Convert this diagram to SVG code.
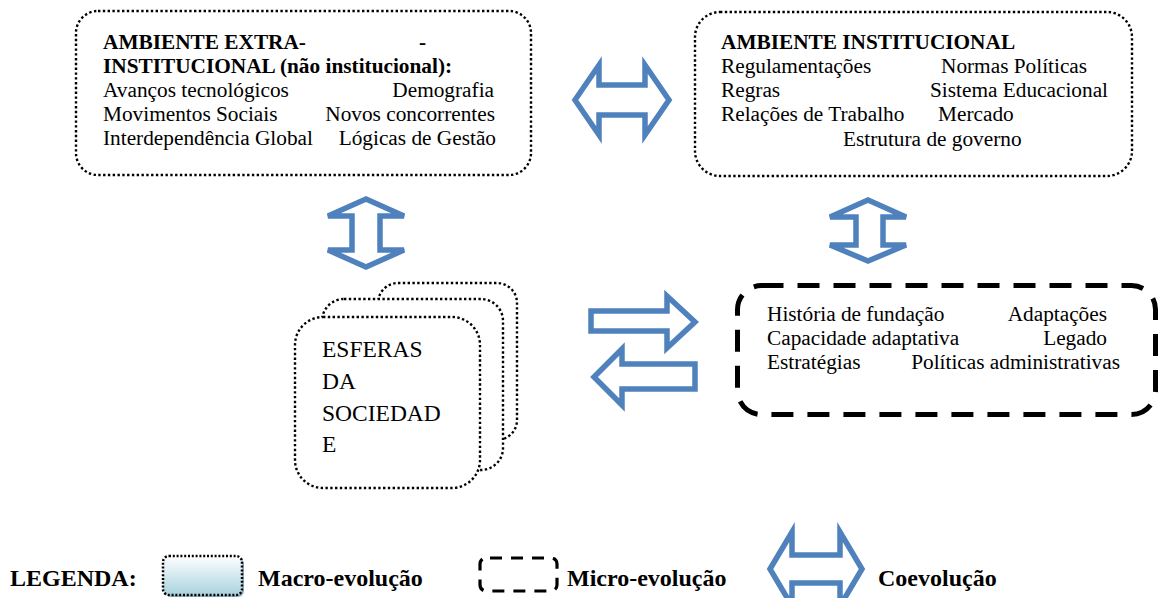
<svg xmlns="http://www.w3.org/2000/svg" width="1162" height="598" viewBox="0 0 1162 598">
  <style>
    .t { font-family: "Liberation Serif", "Times New Roman", serif; font-size: 21.3px; fill: #000; }
    .b { font-weight: bold; }
    .end { text-anchor: end; }
    .big { font-size: 23.5px; }
    .leg { font-family: "Liberation Serif", "Times New Roman", serif; font-size: 24px; font-weight: bold; fill: #000; }
    .dot { fill: #fff; stroke: #000; stroke-width: 2.4; stroke-dasharray: 2.4 2.4; }
    .dash { fill: #fff; stroke: #000; stroke-width: 5; stroke-dasharray: 22 14; }
    .arrow { fill: #fff; stroke: #4F81BD; stroke-width: 5.5; stroke-linejoin: miter; }
  </style>
  <defs>
    <linearGradient id="macroFill" x1="0" y1="0" x2="0" y2="1">
      <stop offset="0" stop-color="#ffffff"/>
      <stop offset="1" stop-color="#a9d2de"/>
    </linearGradient>
  </defs>

  <rect width="1162" height="598" fill="#fff"/>

  <!-- Extra-institutional environment -->
  <g id="ambiente-extra">
    <rect class="dot" x="76" y="11" width="455" height="164" rx="22"/>
    <text class="t b" x="103" y="49">AMBIENTE EXTRA-</text>
    <text class="t b" x="419" y="49">-</text>
    <text class="t b" x="103" y="73">INSTITUCIONAL (não institucional):</text>
    <text class="t" x="103" y="97">Avanços tecnológicos</text>
    <text class="t end" x="494" y="97">Demografia</text>
    <text class="t" x="103" y="121">Movimentos Sociais</text>
    <text class="t end" x="495" y="121">Novos concorrentes</text>
    <text class="t" x="103" y="145">Interdependência Global</text>
    <text class="t end" x="496" y="145">Lógicas de Gestão</text>
  </g>

  <!-- Institutional environment -->
  <g id="ambiente-institucional">
    <rect class="dot" x="695" y="12" width="437" height="164" rx="25"/>
    <text class="t b" x="721" y="49">AMBIENTE INSTITUCIONAL</text>
    <text class="t" x="721" y="73">Regulamentações</text>
    <text class="t" x="941" y="73">Normas Políticas</text>
    <text class="t" x="721" y="97">Regras</text>
    <text class="t" x="930" y="97">Sistema Educacional</text>
    <text class="t" x="721" y="121">Relações de Trabalho</text>
    <text class="t" x="938" y="121">Mercado</text>
    <text class="t" x="843" y="146">Estrutura de governo</text>
  </g>

  <!-- Spheres of society (stacked) -->
  <g id="esferas">
    <rect class="dot" x="378" y="283" width="139" height="157" rx="20"/>
    <rect class="dot" x="322" y="299" width="181" height="171" rx="22"/>
    <rect class="dot" x="295" y="317" width="185" height="171" rx="28"/>
    <text class="t big" x="322" y="357">ESFERAS</text>
    <text class="t big" x="322" y="389">DA</text>
    <text class="t big" x="322" y="421">SOCIEDAD</text>
    <text class="t big" x="322" y="452">E</text>
  </g>

  <!-- Organisation (micro level) -->
  <g id="organizacao">
    <rect class="dash" x="737.5" y="285.5" width="418" height="129" rx="24"/>
    <text class="t" x="767" y="321">História de fundação</text>
    <text class="t end" x="1107" y="321">Adaptações</text>
    <text class="t" x="767" y="345">Capacidade adaptativa</text>
    <text class="t end" x="1107" y="345">Legado</text>
    <text class="t" x="767" y="369">Estratégias</text>
    <text class="t end" x="1120" y="369">Políticas administrativas</text>
  </g>

  <!-- Block arrows -->
  <g id="connectors">
    <polygon class="arrow" points="575,100 599,65 599,85 645,85 645,65 669,100 645,135 645,115 599,115 599,135"/>
    <polygon class="arrow" points="366,199 404,216 380,216 380,250 404,250 366,267 328,250 352,250 352,216 328,216"/>
    <polygon class="arrow" points="868,200 906,217 883,217 883,245 906,245 868,261 830,245 856,245 856,217 830,217"/>
    <polygon class="arrow" points="591,311 667,311 667,296 695,322 667,348 667,331 591,331"/>
    <polygon class="arrow" points="594,377 622,349 622,364 695,364 695,389 622,389 622,405"/>
  </g>

  <!-- Legend -->
  <g id="legenda">
    <text class="leg" x="10" y="586">LEGENDA:</text>
    <rect x="165" y="558" width="79" height="39" rx="6" fill="#8fb3c2"/>
    <rect x="163" y="556" width="79" height="39" rx="6" fill="url(#macroFill)" stroke="#000" stroke-width="2.5" stroke-dasharray="2 1.8"/>
    <text class="leg" x="258" y="586">Macro-evolução</text>
    <rect x="480" y="558" width="77" height="33" rx="6" fill="none" stroke="#000" stroke-width="3.2" stroke-dasharray="12 9" stroke-dashoffset="-4"/>
    <text class="leg" x="567" y="586">Micro-evolução</text>
    <polygon class="arrow" points="770,569 792,532 792,555 840,555 840,532 862,569 840,606 840,583 792,583 792,606"/>
    <text class="leg" x="878" y="586">Coevolução</text>
  </g>
</svg>
